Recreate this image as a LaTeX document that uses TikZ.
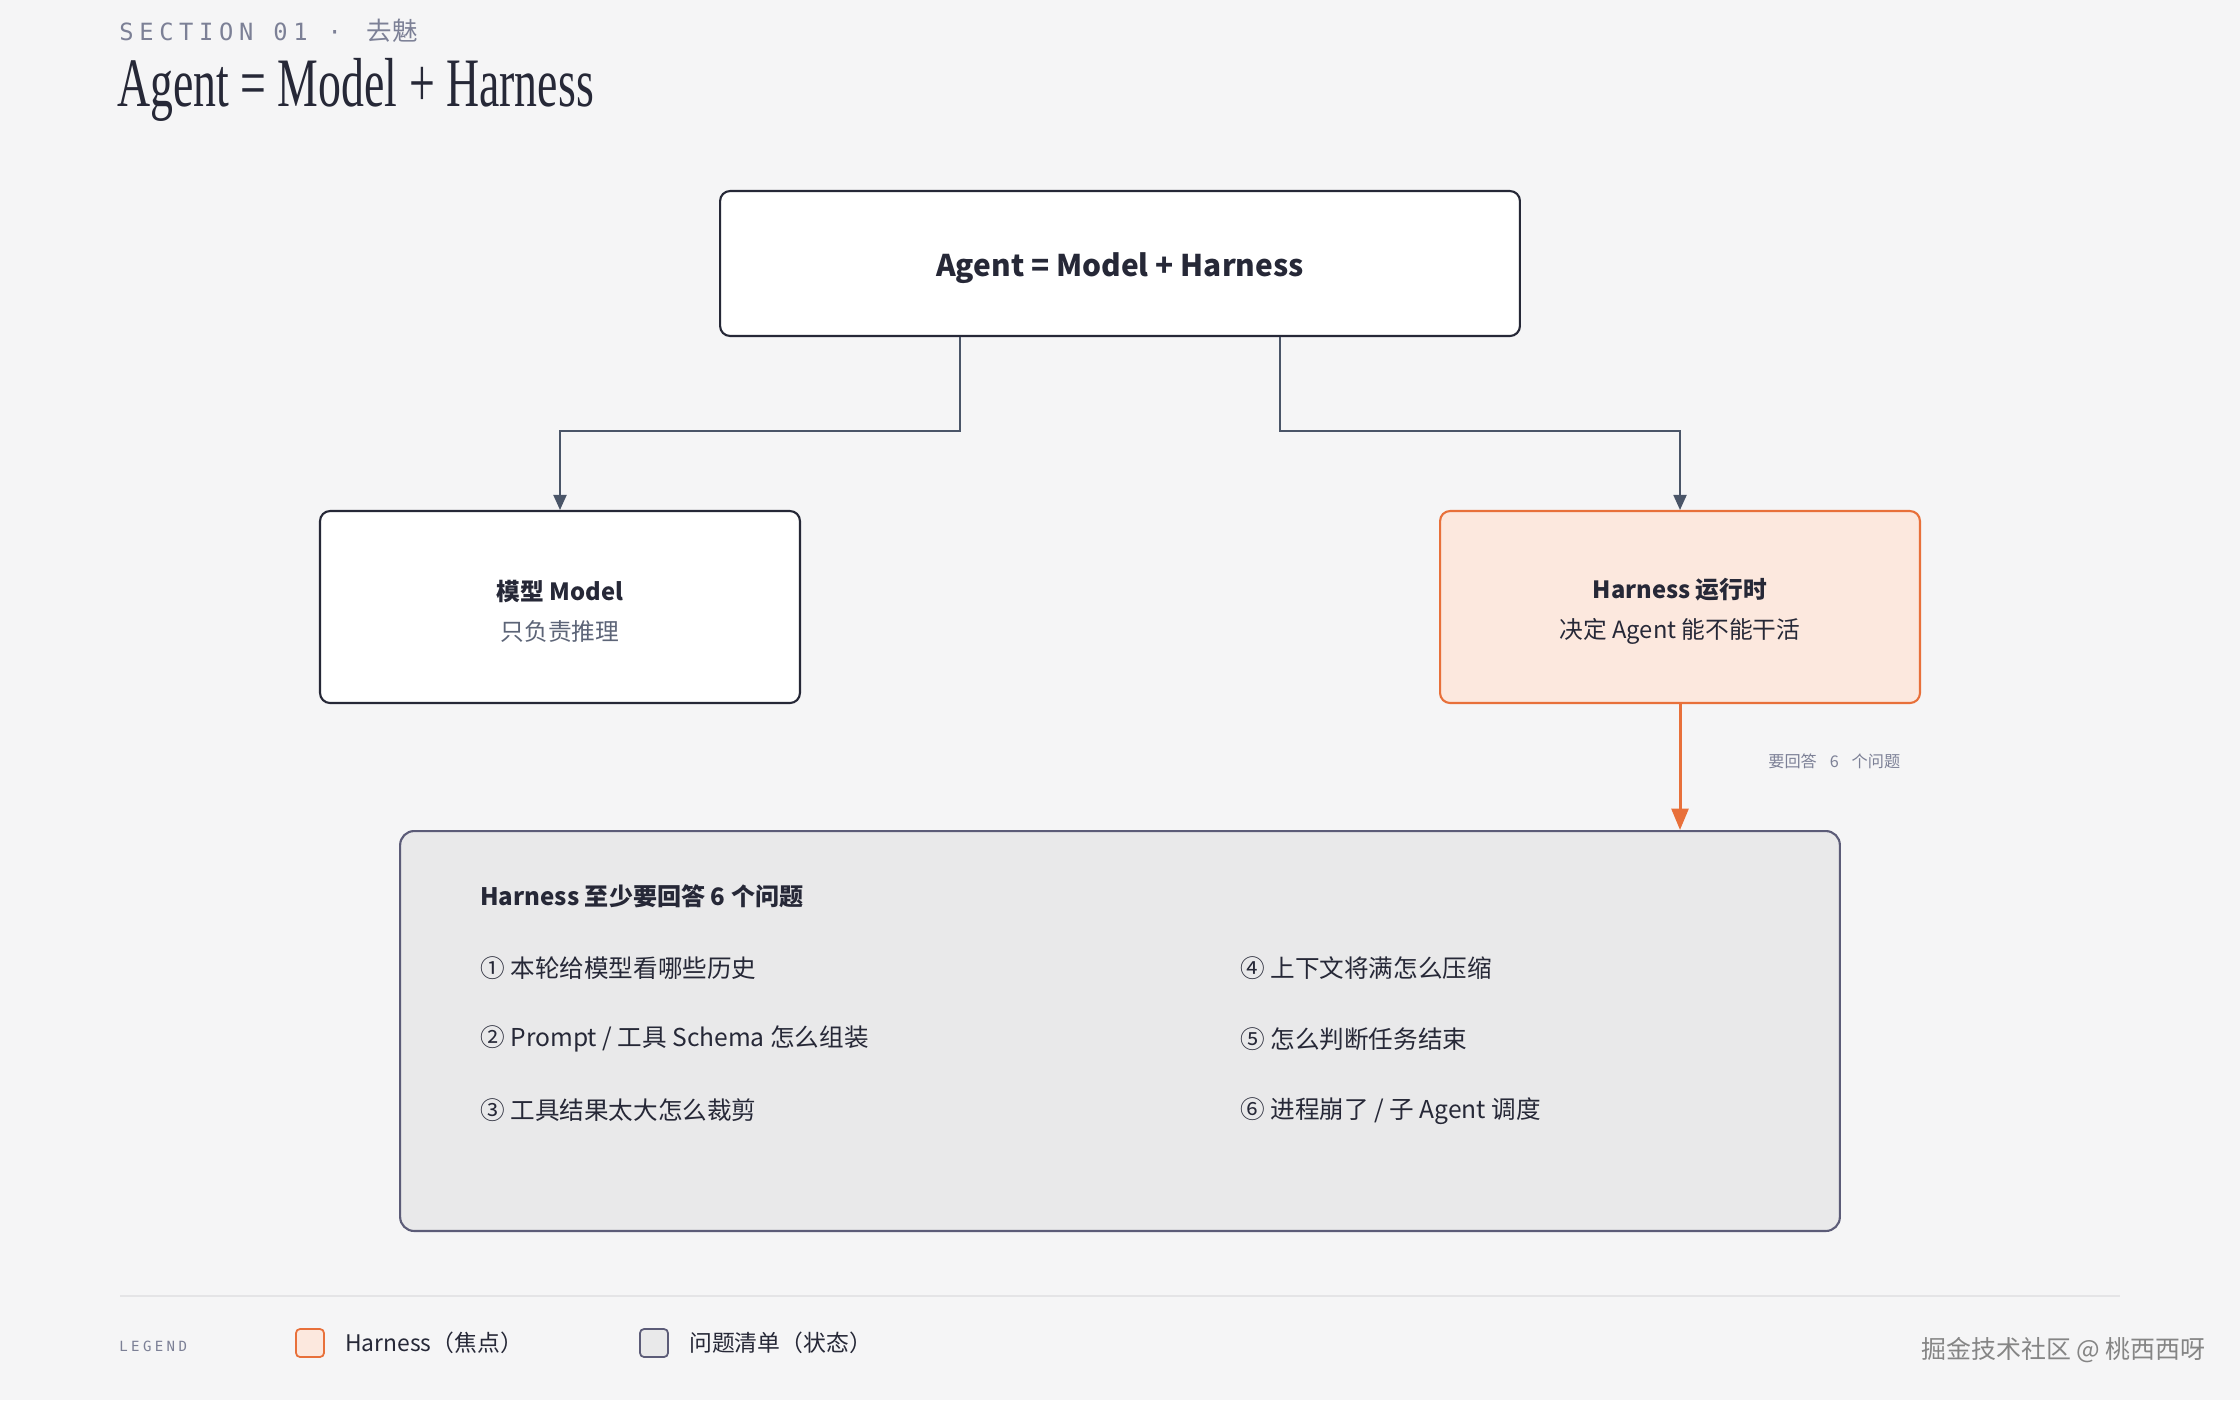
\documentclass[tikz,border=0pt]{standalone}
\usepackage{fontspec}
\setmainfont{Noto Sans CJK SC}
\newfontfamily\secfont[LetterSpace=24]{DejaVu Sans Mono}
\newfontfamily\headfont[FakeStretch=0.66]{Liberation Serif}
\usetikzlibrary{positioning}
\usetikzlibrary{arrows.meta}

\definecolor{bg}{HTML}{F5F5F6}
\definecolor{ink}{HTML}{262837}
\definecolor{slate}{HTML}{4A5568}
\definecolor{muted}{HTML}{5C6477}
\definecolor{section}{HTML}{7C8096}
\definecolor{focus}{HTML}{E8703A}
\definecolor{focusfill}{HTML}{FCE8DE}
\definecolor{listfill}{HTML}{E9E9EA}
\definecolor{listdraw}{HTML}{5C5C78}
\definecolor{rulegray}{HTML}{E4E4E6}
\definecolor{wm}{HTML}{858585}

\tikzset{
  box/.style={draw=ink, line width=1.2pt, fill=white, rounded corners=0.2cm,
    minimum width=9.6cm, minimum height=3.84cm},
  topbox/.style={box, minimum width=16cm, minimum height=2.9cm},
  focusbox/.style={box, draw=focus, fill=focusfill},
  boxtext/.style={text=ink, align=center, font=\fontsize{13.5}{22.8}\selectfont},
  listbox/.style={draw=listdraw, line width=1.2pt, fill=listfill, rounded corners=0.28cm,
    minimum width=28.8cm, minimum height=8cm},
  qtext/.style={anchor=west, inner sep=0pt, text=ink, font=\fontsize{14}{16}\selectfont},
  link/.style={draw=slate, line width=1.1pt, -{Triangle[length=0.3cm,width=0.26cm]}},
  focuslink/.style={draw=focus, line width=1.7pt, -{Triangle[length=0.43cm,width=0.34cm]}},
  swatch/.style={line width=1pt, rounded corners=0.08cm, minimum size=0.56cm, inner sep=0pt},
  legendtext/.style={inner sep=0pt, text=ink, font=\fontsize{13}{15}\selectfont}
}

\begin{document}
\begin{tikzpicture}[x=0.02cm, y=-0.02cm]

  \fill[bg] (0,0) rectangle (2240,1400);
  \useasboundingbox (0,0) rectangle (2240,1400);

  % header
  \node[anchor=west, inner sep=0pt, text=section, font=\secfont\fontsize{13.5}{16}\selectfont] (sec) at (119,31) {SECTION 01 · \hspace{0.2em}{\normalfont\fontsize{14.5}{16}\selectfont 去魅}};
  \node[anchor=base west, inner sep=0pt, text=ink, font=\headfont\fontsize{39.5}{42}\selectfont] (title) at (117,106) {Agent = Model + Harness};

  % boxes
  \node[topbox] (agent) at (1120,263.5) {};
  \node[boxtext, font=\fontsize{17}{20}\selectfont\bfseries] (agenttxt) at (1120,268) {Agent = Model + Harness};
  \node[box] (model) at (560,607) {};
  \node[boxtext] (modeltxt) at (560,611) {\textbf{模型 Model}\\{\color{muted}只负责推理}};
  \node[focusbox] (harness) at (1680,607) {};
  \node[boxtext] (harnesstxt) at (1680,611) {\textbf{Harness 运行时}\\决定 Agent 能不能干活};
  \node[listbox] (qbox) at (1120,1031) {};

  % connectors
  \coordinate (lbend) at (960,431);
  \coordinate (rbend) at (1280,431);
  \draw[link] (lbend |- agent.south) -- (lbend) -| (model.north);
  \draw[link] (rbend |- agent.south) -- (rbend) -| (harness.north);
  \draw[focuslink] (harness.south) -- (qbox.north -| harness.south);
  \node[anchor=west, inner sep=0pt, text=section, font=\fontsize{9.2}{11}\selectfont] (asks) at (1768,761) {要回答\hspace{0.8em}6\hspace{0.8em}个问题};

  % questions
  \node[qtext, font=\fontsize{13.7}{16}\selectfont\bfseries] (qhead) at (480,896) {Harness 至少要回答 6 个问题};
  \node[qtext] (q1) at (480,968) {① 本轮给模型看哪些历史};
  \node[qtext] (q2) at (480,1039) {② Prompt / 工具 Schema 怎么组装};
  \node[qtext] (q3) at (480,1110) {③ 工具结果太大怎么裁剪};
  \node[qtext] (q4) at (1240,968) {④ 上下文将满怎么压缩};
  \node[qtext] (q5) at (1240,1039) {⑤ 怎么判断任务结束};
  \node[qtext] (q6) at (1240,1111) {⑥ 进程崩了 / 子 Agent 调度};

  % legend
  \draw[rulegray, line width=1.2pt] (120,1296) -- (2120,1296);
  \node[anchor=west, inner sep=0pt, text=section, font=\secfont\fontsize{8}{9}\selectfont] (legend) at (119,1346) {LEGEND};
  \node[swatch, draw=focus, fill=focusfill] (swfocus) at (310,1343) {};
  \node[legendtext, right=0.4cm of swfocus] (lfocus) {Harness（焦点）};
  \node[swatch, draw=listdraw, fill=listfill] (swlist) at (654,1343) {};
  \node[legendtext, right=0.4cm of swlist] (llist) {问题清单（状态）};

  \node[anchor=east, inner sep=0pt, text=wm, font=\fontsize{14.2}{16}\selectfont] (mark) at (2206,1350) {掘金技术社区 @ 桃西西呀};

\end{tikzpicture}
\end{document}
